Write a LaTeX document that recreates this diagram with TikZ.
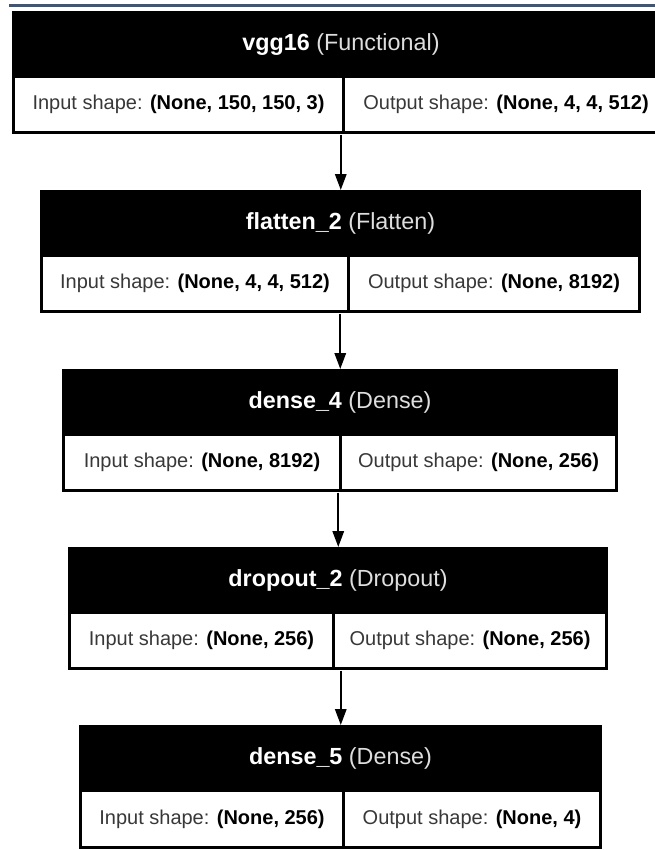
\documentclass[tikz,border=0pt]{standalone}
\usepackage{fontspec}
\setmainfont{Liberation Sans}
\usetikzlibrary{arrows.meta,calc}

\definecolor{barblue}{RGB}{66,84,112}
\definecolor{rowgrey}{RGB}{56,56,56}
\definecolor{kindgrey}{RGB}{222,222,222}

\begin{document}
\begin{tikzpicture}[x=0.75pt, y=-0.75pt, >=Triangle, line join=miter,
  layerbox/.style={fill=black, inner sep=0pt, anchor=north west},
  cellbox/.style={fill=white, inner sep=0pt, anchor=north west, text=rowgrey,
    font=\fontsize{15}{18}\selectfont},
  headtext/.style={text=kindgrey, inner sep=0pt, font=\fontsize{17.5}{21}\selectfont},
  flow/.style={->, line width=1.6pt, arrows={-Triangle[length=12pt, width=8.5pt]}}]

  % page (655 x 850 px, 1px = 0.75pt, y grows downward)
  \useasboundingbox (0,0) rectangle (655,850);
  \clip (0,0) rectangle (655,850);
  \fill[white] (0,0) rectangle (655,850);

  % window bar at the top of the screenshot
  \fill[barblue] (9,3.5) rectangle (655,6.5);

  % layers: name / left / right / top / split / bottom / divider / title / kind / input / output
  \foreach \nm/\lx/\rx/\ty/\sy/\by/\dx/\lname/\lkind/\inshape/\outshape in {
      vgg16/12/670/11/78/134/343/vgg16/Functional/{150, 150, 3}/{4, 4, 512},
      flatten2/40/641/190/257/313/348/flatten\_2/Flatten/{4, 4, 512}/{8192},
      dense4/62/618/369/436/492/340/dense\_4/Dense/{8192}/{256},
      dropout2/68/608/547/614/670/333/dropout\_2/Dropout/{256}/{256},
      dense5/79/602/725/792/849/343/dense\_5/Dense/{256}/{4}}
  {
    \pgfmathsetmacro\w{(\rx-\lx)*0.75}
    \pgfmathsetmacro\h{(\by-\ty)*0.75}
    \pgfmathsetmacro\wl{(\dx-1.5-\lx-3)*0.75}
    \pgfmathsetmacro\wr{(\rx-3-\dx-1.5)*0.75}
    \pgfmathsetmacro\hc{(\by-3-\sy)*0.75}
    % black frame and header
    \node[layerbox, minimum width=\w pt, minimum height=\h pt] (\nm) at (\lx,\ty) {};
    \node[headtext] (\nm-title) at ({(\lx+\rx)/2},{(\ty+\sy)/2})
      {\textcolor{white}{\bfseries\lname} (\lkind)};
    % input / output cells
    \node[cellbox, minimum width=\wl pt, minimum height=\hc pt] (\nm-in) at ({\lx+3},\sy)
      {Input shape: \textcolor{black}{\bfseries(None, \inshape)}};
    \node[cellbox, minimum width=\wr pt, minimum height=\hc pt] (\nm-out) at ({\dx+1.5},\sy)
      {Output shape: \textcolor{black}{\bfseries(None, \outshape)}};
  }

  % connections
  \foreach \a/\b in {vgg16/flatten2, flatten2/dense4, dense4/dropout2, dropout2/dense5}
    \draw[flow] (\a.south -| \b.north) -- (\b.north);

\end{tikzpicture}
\end{document}
